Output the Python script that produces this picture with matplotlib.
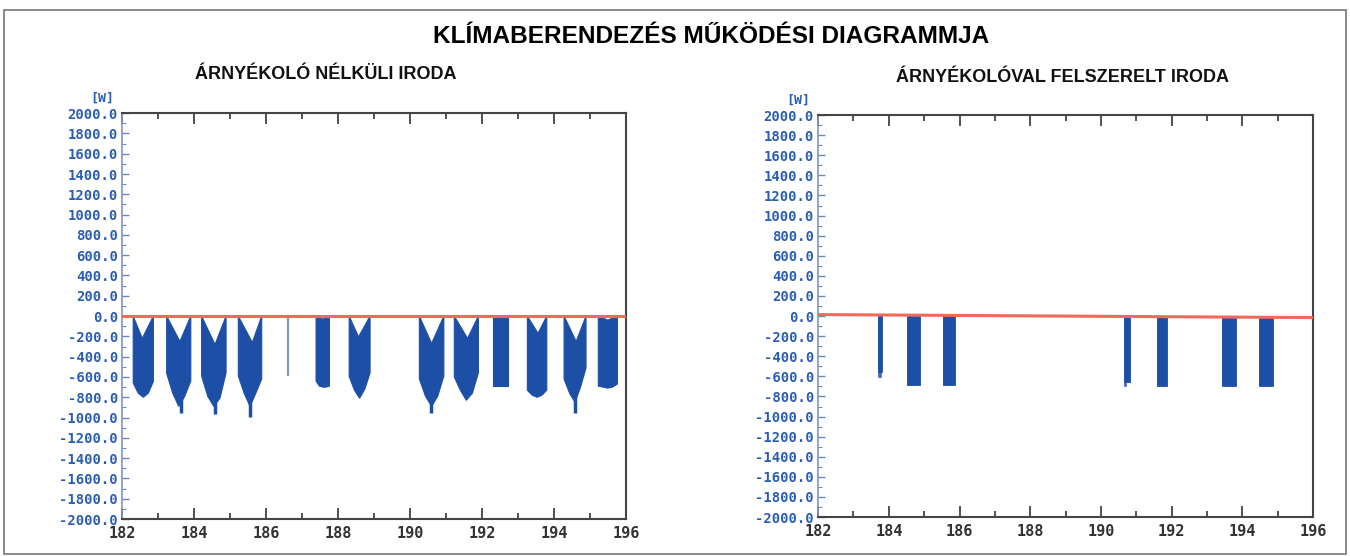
import matplotlib
matplotlib.use("Agg")
import matplotlib.pyplot as plt
from matplotlib.patches import Rectangle, Polygon
import numpy as np

# ---------------- data ----------------
days_major = [182, 184, 186, 188, 190, 192, 194, 196]
y_ticks = list(range(-2000, 2001, 200))

# Left chart: office without shading - daily cooling blocks
left_start = [182.31, 183.24, 184.21, 185.23, 187.39, 188.31, 190.26, 191.23, 192.30, 193.26, 194.28, 195.23]
left_end   = [182.87, 183.91, 184.89, 185.88, 187.76, 188.89, 190.94, 191.90, 192.73, 193.80, 194.89, 195.76]
left_notch = [-220, -250, -280, -260, -30, -205, -270, -220, 0, -170, -250, -40]
left_notch_pos = [0.45, 0.55, 0.55, 0.60, 0.5, 0.45, 0.50, 0.55, 0.5, 0.55, 0.55, 0.5]
left_lower = [
    [-660, -760, -800, -760, -645],
    [-565, -760, -890, -790, -640],
    [-590, -790, -890, -810, -560],
    [-590, -760, -890, -760, -620],
    [-640, -690, -700, -700, -690],
    [-595, -730, -810, -720, -560],
    [-620, -790, -890, -790, -590],
    [-600, -730, -830, -760, -560],
    [-690, -690, -690, -690, -690],
    [-730, -780, -800, -780, -730],
    [-620, -760, -850, -700, -510],
    [-690, -700, -710, -700, -670],
]
left_spike_day = [183.64, 184.58, 185.56, 190.58, 194.58]
left_spike_val = [-956, -966, -995, -960, -960]
left_line_day = [186.62]
left_line_val = [-595]

# Right chart: office with shading
right_start = [183.70, 184.51, 185.53, 190.64, 191.58, 193.42, 194.48]
right_end   = [183.80, 184.87, 185.88, 190.81, 191.86, 193.82, 194.86]
right_depth = [-560, -690, -690, -660, -700, -700, -700]
right_tail  = [-610, -660, -680, -700, -690, -650, -690]

# zero (red) reference lines: value at start / end of the period
left_zero = [0, 0]
right_zero = [15, -15]

# ---------------- styling ----------------
BLUE = "#1d4fa6"
LBLUE = "#2c5db5"
RED = "#f0695a"
SPINE = "#444444"

fig = plt.figure(figsize=(13.5, 5.56), dpi=100)

# border around the whole figure
fig.patches.append(Rectangle((0.003, 0.004), 0.994, 0.978, transform=fig.transFigure,
                             fill=False, edgecolor="#777777", linewidth=1.2))

fig.text(0.527, 0.934, "KLÍMABERENDEZÉS MŰKÖDÉSI DIAGRAMMJA", ha="center", va="center",
         fontsize=17.6, fontweight="bold", family=["Liberation Sans", "DejaVu Sans"])


def style_axes(ax, title, title_xy):
    ax.set_xlim(182, 196)
    ax.set_ylim(-2000, 2000)
    ax.set_xticks(days_major)
    ax.set_xticks(range(183, 196, 2), minor=True)
    ax.set_yticks(y_ticks)
    ax.set_yticks(range(-2000, 2001, 100), minor=True)
    ax.set_xticklabels([str(d) for d in days_major], fontsize=11, fontweight="bold",
                       family="DejaVu Sans Mono", color="#333333")
    ax.set_yticklabels([f"{v:.1f}" for v in y_ticks], fontsize=10, fontweight="bold",
                       family="DejaVu Sans Mono", color=LBLUE)
    ax.tick_params(axis="x", which="major", direction="in", length=8, width=1.3,
                   top=True, bottom=True, color=SPINE, pad=5)
    ax.tick_params(axis="x", which="minor", direction="in", length=4, width=1.3,
                   top=True, bottom=True, color=SPINE)
    ax.tick_params(axis="y", which="major", direction="in", length=5, width=1.0,
                   left=True, right=False, color="#6a86c0", pad=3)
    ax.tick_params(axis="y", which="minor", direction="in", length=3, width=0.8,
                   left=True, right=False, color="#6a86c0")
    for side in ["top", "bottom", "right"]:
        ax.spines[side].set_color(SPINE)
        ax.spines[side].set_linewidth(1.5)
    ax.spines["left"].set_color("#7f95c5")
    ax.spines["left"].set_linewidth(1.2)
    ax.text(-0.04, 1.02, "[W]", transform=ax.transAxes, ha="center", va="bottom",
            fontsize=9.5, fontweight="bold", family="DejaVu Sans Mono", color=LBLUE)
    fig.text(title_xy[0], title_xy[1], title, ha="center", va="center", fontsize=13,
             fontweight="bold", family=["Liberation Sans", "DejaVu Sans"], color="#111111")


# ---------------- left chart ----------------
axL = fig.add_axes([0.0904, 0.0665, 0.3733, 0.730])
style_axes(axL, "ÁRNYÉKOLÓ NÉLKÜLI IRODA", (0.241, 0.866))

rel = [0.0, 0.25, 0.5, 0.75, 1.0]
for s, e, n, npos, low in zip(left_start, left_end, left_notch, left_notch_pos, left_lower):
    w = e - s
    top = [(s, 0), (s + npos * w, n), (e, 0)]
    bottom = [(s + r * w, v) for r, v in zip(rel, low)][::-1]
    axL.add_patch(Polygon(top + bottom, closed=True, facecolor=BLUE, edgecolor=BLUE,
                          linewidth=0.8))
axL.vlines(left_spike_day, -800, left_spike_val, color=BLUE, linewidth=2.5)
axL.vlines(left_line_day, 0, left_line_val, color="#7d93c3", linewidth=1.5)
axL.plot([182, 196], left_zero, color=RED, linewidth=2.2, zorder=5)

# ---------------- right chart ----------------
axR = fig.add_axes([0.606, 0.070, 0.3667, 0.723])
style_axes(axR, "ÁRNYÉKOLÓVAL FELSZERELT IRODA", (0.787, 0.860))

for s, e, d, t in zip(right_start, right_end, right_depth, right_tail):
    w = e - s
    axR.bar(s, d, width=w, align="edge", color=BLUE, edgecolor=BLUE, linewidth=0.6)
    axR.bar(s, t, width=min(w, 0.08), align="edge", color=BLUE, edgecolor=BLUE,
            linewidth=0.4, alpha=0.85)
axR.plot([182, 196], right_zero, color=RED, linewidth=2.2, zorder=5)

fig.savefig("out.png", dpi=100)
